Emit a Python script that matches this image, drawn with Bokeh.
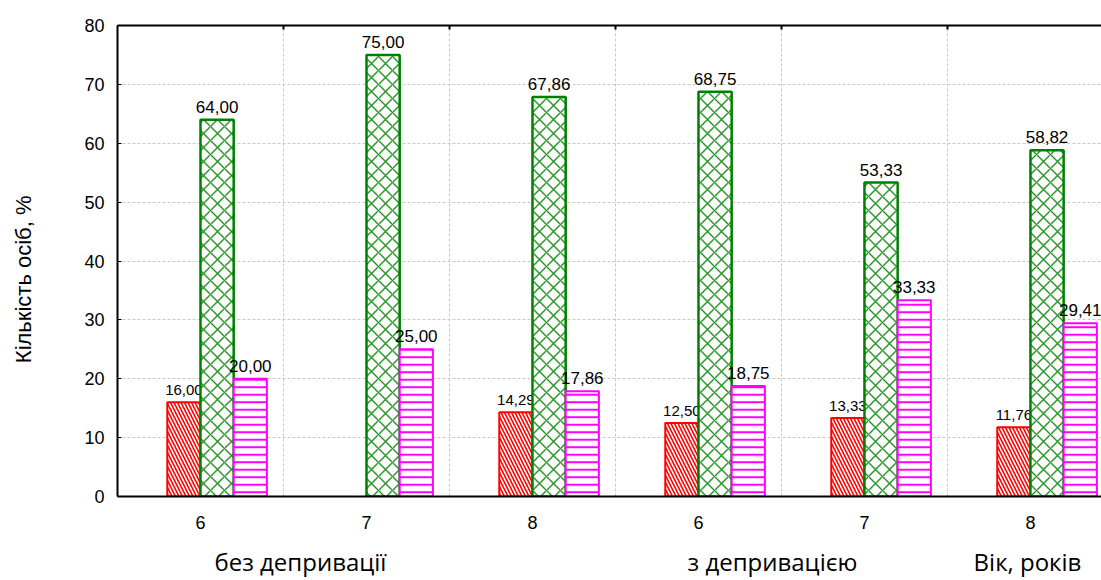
import numpy as np
from bokeh.plotting import figure
from bokeh.models import (ColumnDataSource, FixedTicker, LinearAxis, Range1d)
from bokeh.embed import file_html
from bokeh.resources import INLINE

# ---- data ----
ages = ["6", "7", "8", "6", "7", "8"]
red_vals = [16.00, np.nan, 14.29, 12.50, 13.33, 11.76]
green_vals = [64.00, 75.00, 67.86, 68.75, 53.33, 58.82]
magenta_vals = [20.00, 25.00, 17.86, 18.75, 33.33, 29.41]
group_names = ["без депривації", "з депривацією"]
x_title = "Вік, років"
y_title = "Кількість осіб, %"
y_ticks = [0, 10, 20, 30, 40, 50, 60, 70, 80]

xs = np.arange(len(ages), dtype=float)
bar_w = 0.2
offsets = {"red": -0.1, "green": 0.1, "magenta": 0.3}

FONT = "Liberation Sans"

p = figure(width=1101, height=580, output_backend="svg", toolbar_location=None,
           x_range=Range1d(-0.5, 5.428), y_range=Range1d(0, 80),
           min_border_left=117, min_border_right=0, min_border_top=25,
           min_border_bottom=84, x_axis_location=None, y_axis_location=None)
p.outline_line_color = None
p.background_fill_color = "white"
p.border_fill_color = "white"

# y axis (title shifted slightly below frame centre, as in the reference)
yaxis = LinearAxis(ticker=FixedTicker(ticks=y_ticks),
                   axis_label=y_title + "\u00a0" * 6)
yaxis.axis_line_width = 2
yaxis.axis_line_color = "black"
yaxis.major_tick_in = 4
yaxis.major_tick_out = 0
yaxis.minor_tick_line_color = None
yaxis.major_label_standoff = 13
yaxis.major_label_text_font = FONT
yaxis.major_label_text_font_size = "18px"
yaxis.major_label_text_color = "black"
yaxis.axis_label_text_font = FONT
yaxis.axis_label_text_font_size = "22px"
yaxis.axis_label_text_font_style = "normal"
yaxis.axis_label_text_color = "black"
yaxis.axis_label_standoff = 45
p.add_layout(yaxis, "left")

# bottom axis with ages
xaxis = LinearAxis(ticker=FixedTicker(ticks=list(xs)))
xaxis.major_label_overrides = {int(i): a for i, a in enumerate(ages)}
xaxis.axis_line_width = 2
xaxis.axis_line_color = "black"
xaxis.major_tick_line_color = None
xaxis.minor_tick_line_color = None
xaxis.major_label_standoff = 13
xaxis.major_label_text_font = FONT
xaxis.major_label_text_font_size = "18px"
xaxis.major_label_text_color = "black"
p.add_layout(xaxis, "below")

# second bottom axis with group names
grp_pos = [0.602, 3.446, 4.982]
grp_labels = group_names + [x_title]
gaxis = LinearAxis(ticker=FixedTicker(ticks=grp_pos))
gaxis.major_label_overrides = {pos: lab for pos, lab in zip(grp_pos, grp_labels)}
gaxis.axis_line_color = None
gaxis.major_tick_line_color = None
gaxis.minor_tick_line_color = None
gaxis.major_label_standoff = 7
gaxis.major_label_text_font = "Open Sans"
gaxis.major_label_text_font_size = "24px"
gaxis.major_label_text_color = "black"
p.add_layout(gaxis, "below")

# top axis (frame border with ticks at group boundaries)
bounds = [i + 0.5 for i in range(len(ages))]
taxis = LinearAxis(ticker=FixedTicker(ticks=bounds))
taxis.axis_line_width = 2
taxis.axis_line_color = "black"
taxis.major_tick_in = 4
taxis.major_tick_out = 0
taxis.major_tick_line_width = 2
taxis.minor_tick_line_color = None
taxis.major_label_text_font_size = "0px"
taxis.major_label_standoff = 0
p.add_layout(taxis, "above")

# grids
p.xgrid.ticker = FixedTicker(ticks=bounds)
p.ygrid.ticker = FixedTicker(ticks=y_ticks[1:])
for g in (p.xgrid, p.ygrid):
    g.grid_line_color = "#c8c8c8"
    g.grid_line_dash = "3 2"
    g.grid_line_width = 1

def fmt(v):
    return ("%.2f" % v).replace(".", ",")

def labels(name, vals, fs, yo, xo=0):
    xx, yy, tt = [], [], []
    for i, v in enumerate(vals):
        if not np.isnan(v):
            xx.append(xs[i] + offsets[name])
            yy.append(v)
            tt.append(fmt(v))
    src = ColumnDataSource(dict(x=xx, y=yy, t=tt))
    p.text(x="x", y="y", text="t", source=src, text_align="center",
           text_baseline="alphabetic", text_font_size=fs,
           text_font={"value": FONT}, text_color="black",
           y_offset=-yo, x_offset=xo)

def bars(name, vals, **kw):
    xx, tops = [], []
    for i, v in enumerate(vals):
        if not np.isnan(v):
            xx.append(xs[i] + offsets[name])
            tops.append(v)
    src = ColumnDataSource(dict(x=xx, top=tops))
    p.vbar(x="x", top="top", bottom=0, width=bar_w, source=src, **kw)

# red/green labels under the bars, as in the reference
labels("red", red_vals, "15px", 12)
labels("green", green_vals, "17px", 13)

bars("red", red_vals, fill_color="#ff0000", line_color="#ff0000", line_width=2,
     hatch_pattern="\\", hatch_color="white", hatch_weight=1.6, hatch_scale=7)
bars("green", green_vals, fill_color="white", line_color="#008000", line_width=2.5,
     hatch_pattern="x", hatch_color="#2a9a2a", hatch_weight=1.5, hatch_scale=14)
bars("magenta", magenta_vals, fill_color="white", line_color="#ff00ff", line_width=2,
     hatch_pattern="-", hatch_color="#ff00ff", hatch_weight=2, hatch_scale=7.5)

labels("magenta", magenta_vals, "17px", 13)

open("out.html", "w").write(file_html(p, INLINE))
